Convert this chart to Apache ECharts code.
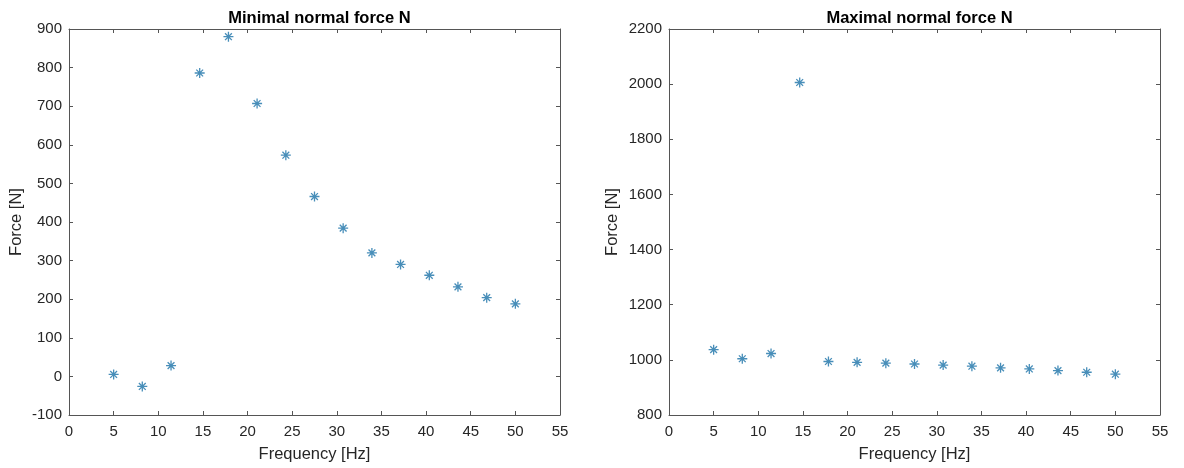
<!DOCTYPE html>
<html>
<head>
<meta charset="utf-8">
<script src="https://cdn.jsdelivr.net/npm/echarts@6/dist/echarts.min.js"></script>
<style>
  html, body { margin: 0; padding: 0; background: #ffffff; }
  #chart { width: 1184px; height: 468px; }
</style>
</head>
<body>
<div id="chart"></div>
<script>
// Excitation frequencies [Hz]
const frequency = [5, 8.21, 11.43, 14.64, 17.86, 21.07, 24.29, 27.5, 30.71, 33.93, 37.14, 40.36, 43.57, 46.79, 50];
// Minimal normal force per frequency [N]
const minForce = [5, -26, 28, 786, 880, 707, 573, 466, 384, 320, 290, 262, 232, 204, 188];
// Maximal normal force per frequency [N]
const maxForce = [1037, 1004, 1023, 2006, 994, 991, 988, 985, 981, 977, 971, 967, 961, 955, 948];

const titles = ['Minimal normal force N', 'Maximal normal force N'];
const xLabel = 'Frequency [Hz]';
const yLabel = 'Force [N]';
const xRange = { min: 0, max: 55, interval: 5 };
const yRanges = [
  { min: -100, max: 900, interval: 100 },
  { min: 800, max: 2200, interval: 200 }
];

const markerColor = '#1a72a8';
const textColor = '#262626';
const boxColor = '#555555';
const fontFamily = 'Liberation Sans, Arial, Helvetica, sans-serif';

// "*" marker: a plus combined with a cross
const asterisk = 'path://M5 0L5 10M0 5L10 5M1.6 1.6L8.4 8.4M8.4 1.6L1.6 8.4';

const grids = [
  { left: 69, top: 29, width: 491, height: 387 },
  { left: 669, top: 29, width: 491, height: 387 }
];

const tickInside = { show: true, inside: true, length: 4, lineStyle: { color: boxColor, width: 1 } };
const boxLine = { show: true, onZero: false, lineStyle: { color: boxColor, width: 1 } };
const tickFont = { color: textColor, fontSize: 15, fontFamily: fontFamily, formatter: (v) => String(v) };

const xAxes = [];
const yAxes = [];
grids.forEach((g, i) => {
  // bottom axis with labels
  xAxes.push({
    type: 'value', gridIndex: i, position: 'bottom',
    min: xRange.min, max: xRange.max, interval: xRange.interval,
    name: xLabel, nameLocation: 'middle', nameGap: 31,
    nameTextStyle: { color: textColor, fontSize: 16.5, fontFamily: fontFamily },
    axisLine: boxLine, axisTick: tickInside,
    axisLabel: Object.assign({ margin: 9 }, tickFont),
    splitLine: { show: false }
  });
  // top edge of the box
  xAxes.push({
    type: 'value', gridIndex: i, position: 'top',
    min: xRange.min, max: xRange.max, interval: xRange.interval,
    axisLine: boxLine, axisTick: tickInside,
    axisLabel: { show: false }, splitLine: { show: false }
  });
  // left axis with labels
  yAxes.push({
    type: 'value', gridIndex: i, position: 'left',
    min: yRanges[i].min, max: yRanges[i].max, interval: yRanges[i].interval,
    name: yLabel, nameLocation: 'middle', nameGap: i === 0 ? 44 : 48,
    nameTextStyle: { color: textColor, fontSize: 16.5, fontFamily: fontFamily },
    axisLine: boxLine, axisTick: tickInside,
    axisLabel: Object.assign({ margin: 7 }, tickFont),
    splitLine: { show: false }
  });
  // right edge of the box
  yAxes.push({
    type: 'value', gridIndex: i, position: 'right',
    min: yRanges[i].min, max: yRanges[i].max, interval: yRanges[i].interval,
    axisLine: boxLine, axisTick: tickInside,
    axisLabel: { show: false }, splitLine: { show: false }
  });
});

const pairs = (xs, ys) => xs.map((x, k) => [x, ys[k]]);

const markerStyle = { color: 'none', borderColor: markerColor, borderWidth: 1.3 };

const option = {
  backgroundColor: '#ffffff',
  animation: false,
  title: titles.map((t, i) => ({
    text: t,
    left: grids[i].left + grids[i].width / 2,
    top: 5,
    textAlign: 'center',
    textStyle: { color: '#000000', fontSize: 16.5, fontWeight: 'bold', fontFamily: fontFamily }
  })),
  grid: grids,
  xAxis: xAxes,
  yAxis: yAxes,
  series: [
    {
      type: 'scatter', xAxisIndex: 0, yAxisIndex: 0,
      data: pairs(frequency, minForce),
      symbol: asterisk, symbolSize: 10,
      itemStyle: markerStyle
    },
    {
      type: 'scatter', xAxisIndex: 2, yAxisIndex: 2,
      data: pairs(frequency, maxForce),
      symbol: asterisk, symbolSize: 10,
      itemStyle: markerStyle
    }
  ]
};

const chart = echarts.init(document.getElementById('chart'), null, { renderer: 'canvas' });
chart.setOption(option);
</script>
</body>
</html>
